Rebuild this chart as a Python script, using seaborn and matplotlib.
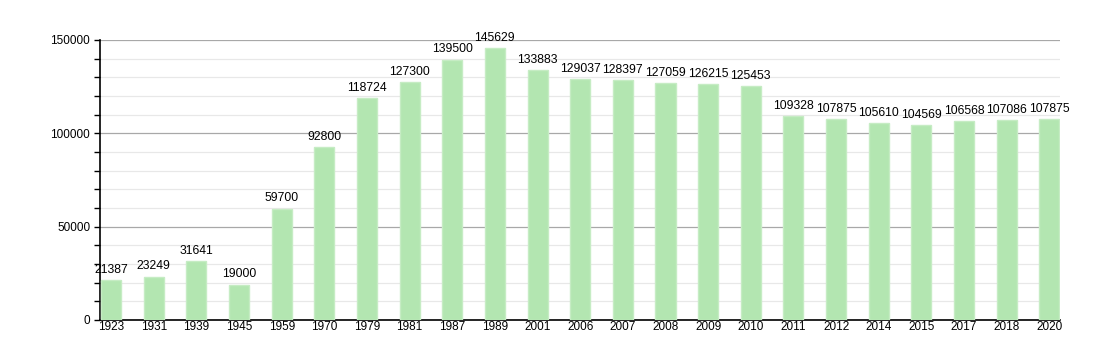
import matplotlib
matplotlib.use("Agg")
import matplotlib.pyplot as plt
import seaborn as sns
import pandas as pd
from matplotlib.ticker import MultipleLocator

years = ["1923", "1931", "1939", "1945", "1959", "1970", "1979", "1981", "1987", "1989",
         "2001", "2006", "2007", "2008", "2009", "2010", "2011", "2012", "2014", "2015",
         "2017", "2018", "2020"]
population = [21387, 23249, 31641, 19000, 59700, 92800, 118724, 127300, 139500, 145629,
              133883, 129037, 128397, 127059, 126215, 125453, 109328, 107875, 105610, 104569,
              106568, 107086, 107875]

df = pd.DataFrame({"year": years, "population": population})

sns.set_theme(style="white")
plt.rcParams["font.family"] = ["Liberation Sans", "DejaVu Sans"]

fig = plt.figure(figsize=(11, 3.6), dpi=100)
ax = fig.add_axes([100/1100, 40/360, 960/1100, 280/360])

sns.barplot(data=df, x="year", y="population", color="#b3e6b1", width=0.47,
            saturation=1, ax=ax, edgecolor="#c6ecc4", linewidth=1, zorder=3)

ax.set_ylim(0, 150000)
ax.set_xlim(-0.26, len(years) - 1 + 0.25)
ax.yaxis.set_major_locator(MultipleLocator(50000))
ax.yaxis.set_minor_locator(MultipleLocator(10000))
ax.grid(axis="y", which="major", color="#a8a8a8", linewidth=0.9, zorder=0)
ax.grid(axis="y", which="minor", color="#e8e8e8", linewidth=0.9, zorder=0)
ax.set_axisbelow(True)

for s in ["top", "right"]:
    ax.spines[s].set_visible(False)
for s in ["left", "bottom"]:
    ax.spines[s].set_color("black")
    ax.spines[s].set_linewidth(1.2)

ax.tick_params(axis="y", which="both", left=True, length=4, width=1, color="black",
               labelsize=8.5, pad=3, labelcolor="black")
ax.tick_params(axis="x", bottom=False, length=0, labelsize=8.5, pad=1, labelcolor="black")
ax.set_xlabel("")
ax.set_ylabel("")

for i, v in enumerate(population):
    ax.text(i, v + 2200, str(v), ha="center", va="bottom", fontsize=8.7, color="black")

fig.savefig("out.png", dpi=100, facecolor="white")
